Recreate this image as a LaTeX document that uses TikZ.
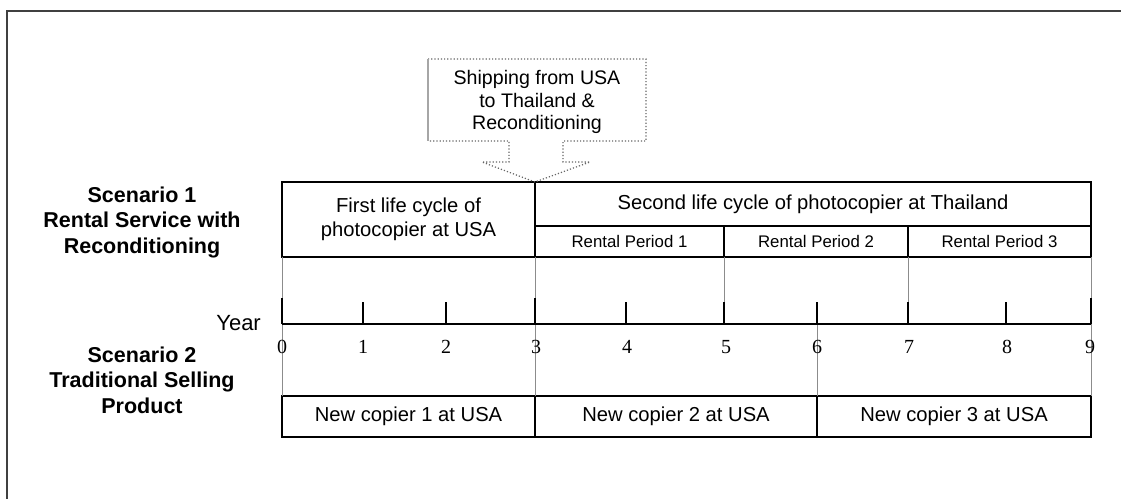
\documentclass[tikz,border=0pt]{standalone}
\usepackage{fontspec}
\setmainfont{Liberation Sans}
\newfontfamily\digitfont{Liberation Serif}
\begin{document}
\begin{tikzpicture}[x=1pt,y=-1pt,
  box/.style={draw=black,line width=1.3pt,inner sep=0pt,outer sep=0pt,align=center,
    font=\fontsize{20.2}{24}\selectfont},
  smallbox/.style={box,font=\fontsize{16.8}{20}\selectfont},
  gridline/.style={draw=black!45,line width=1pt},
  tickline/.style={draw=black,line width=1.3pt},
  axisline/.style={draw=black,line width=1.5pt},
  digit/.style={font=\digitfont\fontsize{20}{22}\selectfont,inner sep=0pt},
  scen/.style={font=\bfseries\fontsize{21.5}{25.5}\selectfont,align=center,inner sep=0pt},
  callout/.style={draw=black!60,line width=1.2pt,dotted}
]
\useasboundingbox (0,0) rectangle (1121,498);
% outer frame
\draw[line width=2pt,draw=black!75] (7,500) -- (7,11) -- (1123,11);

% scenario labels
\node[scen] (s1) at (142,222) {Scenario 1\\Rental Service with\\Reconditioning};
\node[scen] (s2) at (142,380) {Scenario 2\\Traditional Selling\\Product};

% top boxes
\node[box,minimum width=253pt,minimum height=75pt] (first) at (408.5,219.5) {First life cycle of\\photocopier at USA};
\node[box,minimum width=556pt,minimum height=44pt] (second) at (813,204) {Second life cycle of photocopier at Thailand};
\node[smallbox,minimum width=189pt,minimum height=31pt] (rp1) at (629.5,241.5) {Rental Period 1};
\node[smallbox,minimum width=184pt,minimum height=31pt] (rp2) at (816,241.5) {Rental Period 2};
\node[smallbox,minimum width=183pt,minimum height=31pt] (rp3) at (999.5,241.5) {Rental Period 3};

% bottom boxes
\node[box,minimum width=253pt,minimum height=41pt] (nc1) at (408.5,416.5) {New copier 1 at USA};
\node[box,minimum width=282pt,minimum height=41pt] (nc2) at (676,416.5) {New copier 2 at USA};
\node[box,minimum width=274pt,minimum height=41pt] (nc3) at (954,416.5) {New copier 3 at USA};

% axis coordinates
\coordinate (t0) at (282,324);
\coordinate (t1) at (363,324);
\coordinate (t2) at (446,324);
\coordinate (t3) at (535,324);
\coordinate (t4) at (626,324);
\coordinate (t5) at (724,324);
\coordinate (t6) at (817,324);
\coordinate (t7) at (908,324);
\coordinate (t8) at (1006,324);
\coordinate (t9) at (1091,324);

% grey guide lines
\draw[gridline] (first.south west) -- (nc1.north west);
\draw[gridline] (first.south east) -- (nc2.north west);
\draw[gridline] (rp1.south east) -- (t5);
\draw[gridline] (rp2.south east) -- (t7);
\draw[gridline] (t6) -- (nc2.north east);
\draw[gridline] (rp3.south east) -- (nc3.north east);

% ticks
\foreach \i in {1,2,4,5,6,7,8} \draw[tickline] (t\i) -- ++(0,-22);
\foreach \i in {0,3,9} \draw[tickline] (t\i) -- ++(0,-26);
\draw[axisline] (t0) -- (t9);

% year labels
\node[digit] (n0) at (282,347) {0};
\node[digit] (n1) at (363,347) {1};
\node[digit] (n2) at (446,347) {2};
\node[digit] (n3) at (536,347) {3};
\node[digit] (n4) at (627,347) {4};
\node[digit] (n5) at (726,347) {5};
\node[digit] (n6) at (817,347) {6};
\node[digit] (n7) at (909,347) {7};
\node[digit] (n8) at (1007,347) {8};
\node[digit] (n9) at (1090,347) {9};
\node[anchor=east,inner sep=0pt,font=\fontsize{22}{24}\selectfont] (year) at (261,323) {Year};

% callout
\coordinate (tip) at (first.north east);
\draw[callout] (428,59) -- (646,59) -- (646,141) -- (563,141) -- (563,162) -- (590,162)
  -- (tip) -- (482,162) -- (509,162) -- (509,141) -- (428,141);
\draw[draw=black!35,line width=2pt] (428,59) -- (428,141);
\node[align=center,inner sep=0pt,font=\fontsize{19.6}{22.5}\selectfont] (ship) at (537,102)
  {Shipping from USA\\to Thailand \&\\Reconditioning};
\end{tikzpicture}
\end{document}
